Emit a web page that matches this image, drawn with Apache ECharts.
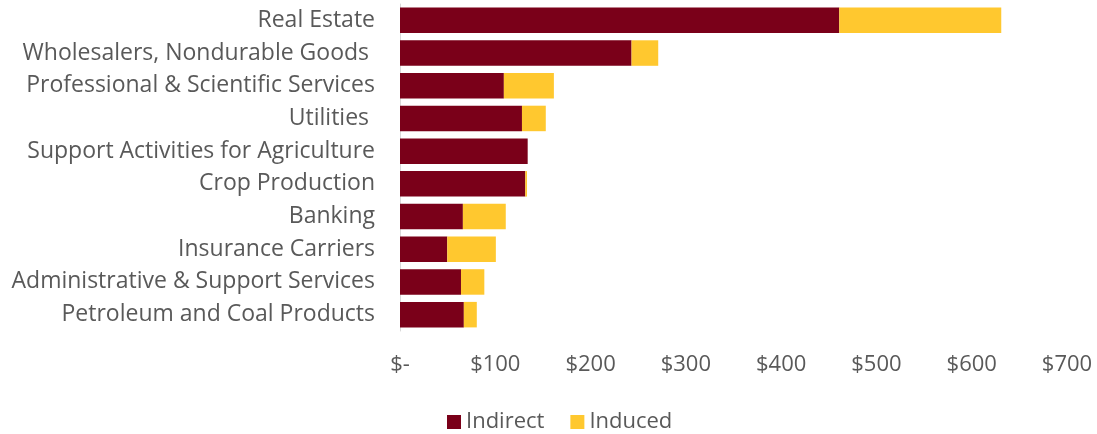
<!DOCTYPE html>
<html>
<head>
<meta charset="utf-8">
<script src="https://cdn.jsdelivr.net/npm/echarts@6/dist/echarts.min.js"></script>
<style>
html, body { margin: 0; padding: 0; background: #fff; }
#chart { width: 1097px; height: 434px; }
</style>
</head>
<body>
<div id="chart"></div>
<script>
// industries, top to bottom
var categories = ['Real Estate', 'Wholesalers, Nondurable Goods ', 'Professional & Scientific Services', 'Utilities ',
    'Support Activities for Agriculture', 'Crop Production', 'Banking', 'Insurance Carriers',
    'Administrative & Support Services', 'Petroleum and Coal Products'];
var indirect = [461, 243, 109, 128, 134, 131.5, 66, 49.6, 64, 67];
var induced = [170, 28, 52.5, 25, 0, 1.8, 45, 51, 24.5, 13.6];
var xTicks = [0, 100, 200, 300, 400, 500, 600, 700];

var fontName = 'Open Sans';
var chart = echarts.init(document.getElementById('chart'));
var option = {
    color: ['#7A0019', '#FFC82F'],
    textStyle: { fontFamily: fontName },
    animation: false,
    legend: {
        data: ['Indirect', 'Induced'],
        left: 442,
        top: 406,
        icon: 'rect',
        itemWidth: 14,
        itemHeight: 14,
        itemGap: 26,
        textStyle: { fontSize: 22, color: '#595959', fontFamily: fontName }
    },
    grid: {
        left: 400,
        right: 30,
        top: 4,
        height: 327
    },
    xAxis: {
        type: 'value',
        min: xTicks[0],
        max: xTicks[xTicks.length - 1],
        interval: 100,
        splitLine: { show: false },
        axisLine: { show: false },
        axisTick: { show: false },
        axisLabel: {
            fontSize: 22,
            color: '#595959',
            margin: 23,
            formatter: function (v) { return v === 0 ? '$-' : '$' + v; }
        }
    },
    yAxis: {
        type: 'category',
        inverse: true,
        data: categories,
        axisLine: { show: true, lineStyle: { color: '#d9d9d9', width: 1 } },
        axisTick: { show: false },
        axisLabel: { fontSize: 23, color: '#595959', margin: 25 }
    },
    series: [
        {
            name: 'Indirect',
            type: 'bar',
            stack: 'total',
            barCategoryGap: '22%',
            data: indirect
        },
        {
            name: 'Induced',
            type: 'bar',
            stack: 'total',
            data: induced
        }
    ]
};
chart.setOption(option);
</script>
</body>
</html>
